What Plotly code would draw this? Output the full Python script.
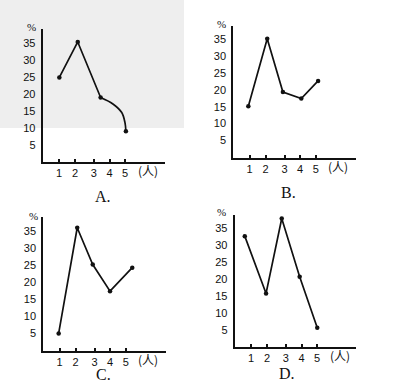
import plotly.graph_objects as go

W, H = 409, 391

# ---- data (x = position along the horizontal axis, y = percent) ----
TICK_POS = [1.02, 2.02, 3.2, 4.18, 5.15]
TICK_LABELS = ["1", "2", "3", "4", "5"]
Y_TICKS = [5, 10, 15, 20, 25, 30, 35]
UNIT_LABEL_POS = 6.55
UNIT_LABEL = "(人)"

A_x = [1.04, 2.19, 3.62]
A_y = [24.8, 35.2, 18.9]
A_curve_x = [3.62, 4.41, 4.94, 5.14, 5.2]
A_curve_y = [18.9, 16.95, 14.5, 11.6, 9.0]

B_x = [0.94, 2.12, 3.1, 4.25, 5.3]
B_y = [15.1, 35.0, 19.3, 17.4, 22.6]

C_x = [0.96, 2.12, 3.09, 4.17, 5.56]
C_y = [5.0, 36.0, 25.2, 17.4, 24.3]

D_x = [0.63, 1.96, 2.94, 4.06, 5.16]
D_y = [32.7, 15.8, 37.9, 20.7, 5.7]

PANEL_NAMES = ["A.", "B.", "C.", "D."]

# ---- layout geometry (pixels) ----
# origin x, origin y, y px per unit, top of y axis, right end of x axis
GEOM = [
    (42.7, 162.0, 3.41, 29.3, 165.0),
    (233.3, 157.5, 3.39, 26.0, 355.7),
    (43.3, 350.5, 3.41, 216.7, 166.0),
    (234.7, 347.0, 3.39, 215.0, 355.7),
]
XPX = 16.0
TITLE_POS = [(103, 196), (288, 192), (103, 374), (287, 373)]
PCT_POS = [(31.7, 27), (221.3, 24), (33.3, 216), (221.3, 212)]

fig = go.Figure()

LINE = dict(color="#111111", width=1.7)
MARK = dict(color="#111111", size=4.5)

series = [
    [(A_x, A_y, "lines+markers", "linear"), (A_curve_x, A_curve_y, "lines", "spline")],
    [(B_x, B_y, "lines+markers", "linear")],
    [(C_x, C_y, "lines+markers", "linear")],
    [(D_x, D_y, "lines+markers", "linear")],
]

layout = {}
annotations = []
tick_font = dict(family="Liberation Sans", size=11, color="#111111")

for i, (ox, oy, ppu, top, right) in enumerate(GEOM):
    n = "" if i == 0 else str(i + 1)
    xa, ya = "x" + n, "y" + n
    for (xs, ys, mode, shape) in series[i]:
        fig.add_trace(go.Scatter(x=xs, y=ys, mode=mode, xaxis=xa, yaxis=ya,
                                 line=dict(**LINE, shape=shape), marker=MARK,
                                 showlegend=False, hoverinfo="skip"))
    if i == 0:
        fig.add_trace(go.Scatter(x=[A_curve_x[-1]], y=[A_curve_y[-1]], mode="markers",
                                 xaxis=xa, yaxis=ya, marker=MARK, showlegend=False,
                                 hoverinfo="skip"))
    layout["xaxis" + n] = dict(
        domain=[ox / W, right / W], range=[0, (right - ox) / XPX],
        anchor=ya, showline=True, linewidth=2, linecolor="#111111",
        tickvals=TICK_POS, ticktext=TICK_LABELS, ticks="inside", ticklen=3,
        tickwidth=1.5, tickcolor="#111111", showgrid=False, zeroline=False,
        tickfont=tick_font, fixedrange=True, automargin=False)
    layout["yaxis" + n] = dict(
        domain=[1 - oy / H, 1 - top / H], range=[0, (oy - top) / ppu],
        anchor=xa, showline=True, linewidth=2, linecolor="#111111",
        tickvals=Y_TICKS, ticks="", showgrid=False, zeroline=False,
        tickfont=tick_font, ticklabelstandoff=3, fixedrange=True, automargin=False)
    tx, ty = TITLE_POS[i]
    annotations.append(dict(text=PANEL_NAMES[i], x=tx / W, y=1 - ty / H, xref="paper",
                            yref="paper", showarrow=False, xanchor="center", yanchor="middle",
                            font=dict(family="Liberation Serif", size=16, color="#111111")))
    px_, py_ = PCT_POS[i]
    annotations.append(dict(text="%", x=px_ / W, y=1 - py_ / H, xref="paper", yref="paper",
                            showarrow=False, xanchor="center", yanchor="middle",
                            font=dict(family="Liberation Serif", size=11, color="#111111")))
    annotations.append(dict(text=UNIT_LABEL, x=UNIT_LABEL_POS, xref=xa,
                            y=1 - (oy + 8.5) / H, yref="paper", showarrow=False,
                            xanchor="center", yanchor="middle",
                            font=dict(family="Noto Sans CJK SC", size=12, color="#111111")))

shapes = [dict(type="rect", xref="paper", yref="paper", x0=0, x1=184 / W,
               y0=1 - 128 / H, y1=1, fillcolor="#eeeeee", line=dict(width=0), layer="below")]

fig.update_layout(width=W, height=H, margin=dict(l=0, r=0, t=0, b=0, autoexpand=False),
                  paper_bgcolor="white", plot_bgcolor="rgba(0,0,0,0)",
                  annotations=annotations, shapes=shapes, **layout)

fig.write_html("out.html", config={"displayModeBar": False},
               post_script="document.body.style.margin='0';document.body.style.padding='0';")
